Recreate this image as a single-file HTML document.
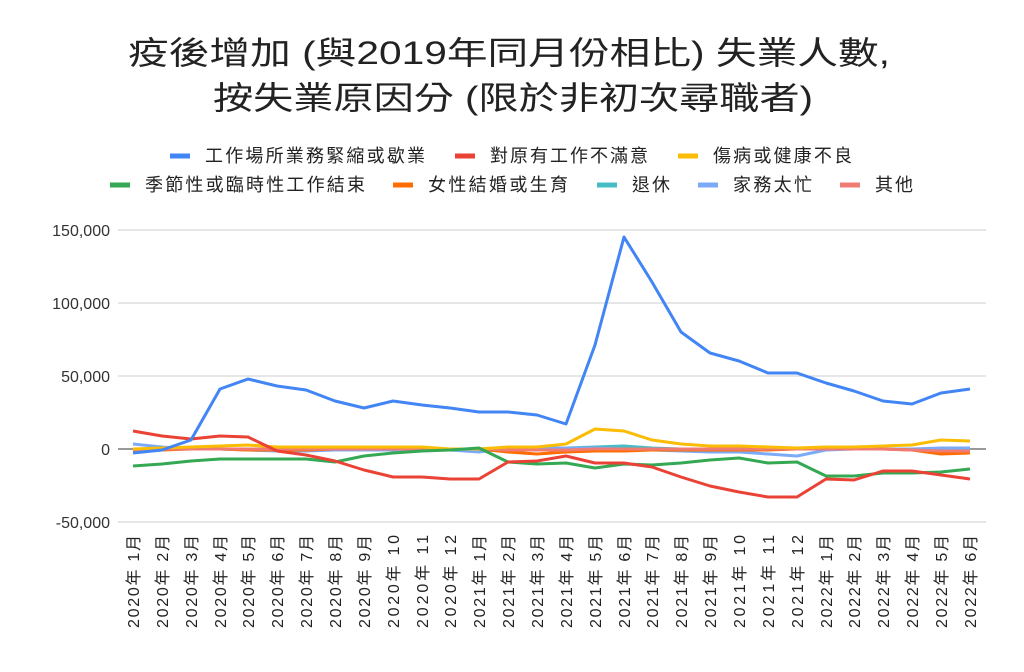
<!DOCTYPE html>
<html><head><meta charset="utf-8"><style>
body{margin:0;background:#fff}
svg{display:block;font-family:"Liberation Sans","Noto Sans CJK TC",sans-serif}
</style></head><body>
<svg width="1024" height="672" viewBox="0 0 1024 672">
<rect width="1024" height="672" fill="#fff"/>
<text x="128" y="64" font-size="32" fill="#222" textLength="762" lengthAdjust="spacingAndGlyphs">疫後增加 (與2019年同月份相比) 失業人數,</text>
<text x="213" y="109" font-size="32" fill="#222" textLength="600" lengthAdjust="spacingAndGlyphs">按失業原因分 (限於非初次尋職者)</text>
<g font-size="18" fill="#222" lengthAdjust="spacingAndGlyphs">
<line x1="170" y1="156" x2="190" y2="156" stroke="#4285f4" stroke-width="5"/><text x="205" y="162" textLength="220">工作場所業務緊縮或歇業</text>
<line x1="455" y1="156" x2="475" y2="156" stroke="#ea4335" stroke-width="5"/><text x="490" y="162" textLength="158">對原有工作不滿意</text>
<line x1="678" y1="156" x2="698" y2="156" stroke="#fbbc04" stroke-width="5"/><text x="713" y="162" textLength="139">傷病或健康不良</text>
<line x1="110" y1="185" x2="130" y2="185" stroke="#34a853" stroke-width="5"/><text x="145" y="191" textLength="220">季節性或臨時性工作結束</text>
<line x1="393" y1="185" x2="413" y2="185" stroke="#ff6d01" stroke-width="5"/><text x="428" y="191" textLength="140">女性結婚或生育</text>
<line x1="597" y1="185" x2="617" y2="185" stroke="#46bdc6" stroke-width="5"/><text x="632" y="191" textLength="38">退休</text>
<line x1="698" y1="185" x2="718" y2="185" stroke="#7baaf7" stroke-width="5"/><text x="733" y="191" textLength="79">家務太忙</text>
<line x1="840" y1="185" x2="860" y2="185" stroke="#f07b72" stroke-width="5"/><text x="875" y="191" textLength="38">其他</text>
</g>
<g stroke="#ccc" stroke-width="1">
<line x1="118" y1="230" x2="986" y2="230"/><line x1="118" y1="303" x2="986" y2="303"/><line x1="118" y1="376" x2="986" y2="376"/><line x1="118" y1="522" x2="986" y2="522"/>
</g>
<line x1="118" y1="449" x2="986" y2="449" stroke="#333" stroke-width="1"/>
<g font-size="16" fill="#333" text-anchor="end">
<text x="110" y="236">150,000</text><text x="110" y="309">100,000</text><text x="110" y="382">50,000</text><text x="110" y="455">0</text><text x="110" y="528">-50,000</text>
</g>
<g font-size="16" fill="#222" text-anchor="end" lengthAdjust="spacingAndGlyphs">
<text transform="translate(139,535) rotate(-90)" textLength="93">2020年 1月</text>
<text transform="translate(168,535) rotate(-90)" textLength="93">2020年 2月</text>
<text transform="translate(197,535) rotate(-90)" textLength="93">2020年 3月</text>
<text transform="translate(226,535) rotate(-90)" textLength="93">2020年 4月</text>
<text transform="translate(254,535) rotate(-90)" textLength="93">2020年 5月</text>
<text transform="translate(283,535) rotate(-90)" textLength="93">2020年 6月</text>
<text transform="translate(312,535) rotate(-90)" textLength="93">2020年 7月</text>
<text transform="translate(341,535) rotate(-90)" textLength="93">2020年 8月</text>
<text transform="translate(370,535) rotate(-90)" textLength="93">2020年 9月</text>
<text transform="translate(399,535) rotate(-90)" textLength="93">2020年 10</text>
<text transform="translate(428,535) rotate(-90)" textLength="93">2020年 11</text>
<text transform="translate(456,535) rotate(-90)" textLength="93">2020年 12</text>
<text transform="translate(485,535) rotate(-90)" textLength="93">2021年 1月</text>
<text transform="translate(514,535) rotate(-90)" textLength="93">2021年 2月</text>
<text transform="translate(543,535) rotate(-90)" textLength="93">2021年 3月</text>
<text transform="translate(572,535) rotate(-90)" textLength="93">2021年 4月</text>
<text transform="translate(601,535) rotate(-90)" textLength="93">2021年 5月</text>
<text transform="translate(630,535) rotate(-90)" textLength="93">2021年 6月</text>
<text transform="translate(658,535) rotate(-90)" textLength="93">2021年 7月</text>
<text transform="translate(687,535) rotate(-90)" textLength="93">2021年 8月</text>
<text transform="translate(716,535) rotate(-90)" textLength="93">2021年 9月</text>
<text transform="translate(745,535) rotate(-90)" textLength="93">2021年 10</text>
<text transform="translate(774,535) rotate(-90)" textLength="93">2021年 11</text>
<text transform="translate(803,535) rotate(-90)" textLength="93">2021年 12</text>
<text transform="translate(832,535) rotate(-90)" textLength="93">2022年 1月</text>
<text transform="translate(860,535) rotate(-90)" textLength="93">2022年 2月</text>
<text transform="translate(889,535) rotate(-90)" textLength="93">2022年 3月</text>
<text transform="translate(918,535) rotate(-90)" textLength="93">2022年 4月</text>
<text transform="translate(947,535) rotate(-90)" textLength="93">2022年 5月</text>
<text transform="translate(976,535) rotate(-90)" textLength="93">2022年 6月</text>
</g>
<g fill="none" stroke-width="3" stroke-linejoin="round">
<polyline stroke="#46bdc6" points="133,449 162,449 191,449 220,449 248,449 277,449 306,449 335,449 364,449 393,449 422,449 450,449 479,449 508,448 537,448 566,448 595,447 624,446 652,448 681,449 710,449 739,449 768,449 797,449 826,449 854,449 883,449 912,449 941,449 970,449"/>
<polyline stroke="#7baaf7" points="133,444 162,447 191,449 220,449 248,450 277,451 306,451 335,450 364,450 393,450 422,450 450,450 479,452 508,448 537,448 566,448 595,448 624,449 652,450 681,451 710,452 739,452 768,454 797,456 826,450 854,449 883,449 912,449 941,448 970,448"/>
<polyline stroke="#ff6d01" points="133,452 162,450 191,449 220,449 248,450 277,450 306,450 335,449 364,449 393,449 422,449 450,449 479,449 508,452 537,454 566,452 595,451 624,451 652,450 681,450 710,450 739,450 768,450 797,449 826,449 854,449 883,449 912,450 941,454 970,453"/>
<polyline stroke="#f07b72" points="133,450 162,449 191,449 220,449 248,449 277,449 306,449 335,449 364,449 393,449 422,449 450,449 479,449 508,450 537,450 566,450 595,449 624,449 652,449 681,449 710,449 739,449 768,449 797,449 826,449 854,449 883,449 912,450 941,451 970,451"/>
<polyline stroke="#fbbc04" points="133,449 162,448 191,447 220,446 248,445 277,447 306,447 335,447 364,447 393,447 422,447 450,449 479,449 508,447 537,447 566,444 595,429 624,431 652,440 681,444 710,446 739,446 768,447 797,448 826,447 854,447 883,446 912,445 941,440 970,441"/>
<polyline stroke="#34a853" points="133,466 162,464 191,461 220,459 248,459 277,459 306,459 335,462 364,456 393,453 422,451 450,450 479,448 508,462 537,464 566,463 595,468 624,464 652,465 681,463 710,460 739,458 768,463 797,462 826,476 854,476 883,473 912,473 941,472 970,469"/>
<polyline stroke="#ea4335" points="133,431 162,436 191,439 220,436 248,437 277,451 306,455 335,461 364,470 393,477 422,477 450,479 479,479 508,462 537,461 566,456 595,463 624,463 652,467 681,477 710,486 739,492 768,497 797,497 826,479 854,480 883,471 912,471 941,475 970,479"/>
<polyline stroke="#4285f4" points="133,453 162,450 191,440 220,389 248,379 277,386 306,390 335,401 364,408 393,401 422,405 450,408 479,412 508,412 537,415 566,424 595,345 624,237 652,282 681,332 710,353 739,361 768,373 797,373 826,383 854,391 883,401 912,404 941,393 970,389"/>
</g>
</svg>
</body></html>
